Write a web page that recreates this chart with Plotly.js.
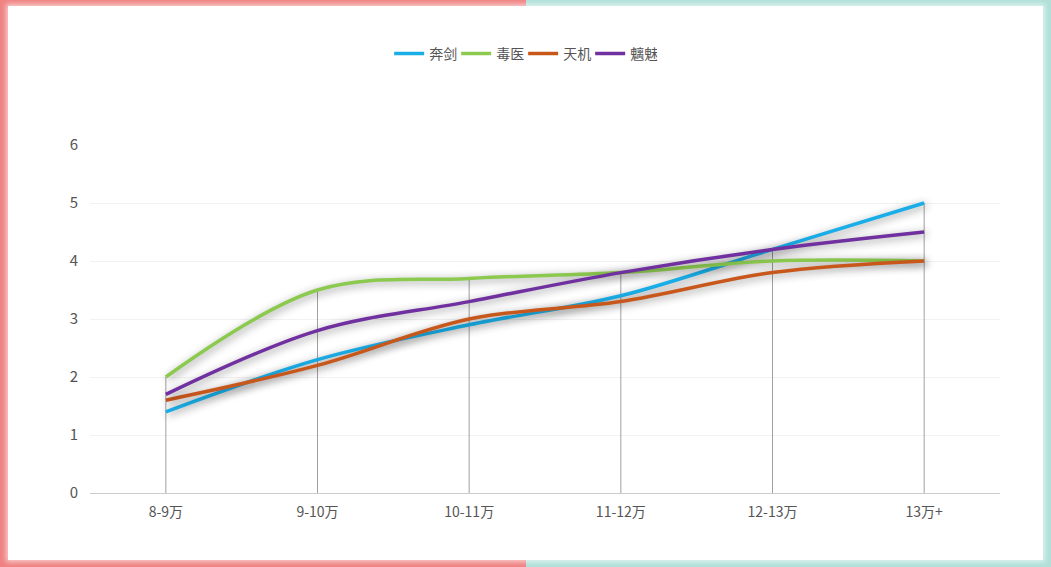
<!DOCTYPE html>
<html>
<head>
<meta charset="utf-8">
<script src="https://cdn.plot.ly/plotly-3.0.1.min.js"></script>
<style>
  html, body { margin: 0; padding: 0; width: 1051px; height: 567px; overflow: hidden; }
  body { background: linear-gradient(to right, #f08282 0%, #f08282 50%, #b0e0d8 50%, #b0e0d8 100%); }
  #card {
    position: absolute; left: 8px; top: 6px; width: 1035px; height: 554px;
    background: #fff; box-shadow: 0 0 5px 2px rgba(255,255,255,0.6);
  }
  #chart { width: 1035px; height: 554px; }
  .scatterlayer .trace .js-line { filter: drop-shadow(2px 2px 4px rgba(0,0,0,0.45)); }
  .scatterlayer .trace:first-child .js-line { filter: none; }
</style>
</head>
<body>
<div id="card"><div id="chart"></div></div>
<script>
  const categories = ["8-9万", "9-10万", "10-11万", "11-12万", "12-13万", "13万+"];
  const benjian = [1.4, 2.3, 2.9, 3.4, 4.2, 5.0];
  const duyi = [2.0, 3.5, 3.7, 3.8, 4.0, 4.0];
  const tianji = [1.6, 2.2, 3.0, 3.3, 3.8, 4.0];
  const chimei = [1.7, 2.8, 3.3, 3.8, 4.2, 4.5];

  const seriesNames = ["奔剑", "毒医", "天机", "魑魅"];
  const seriesColors = ["#1aaee8", "#8cc94f", "#c8571b", "#7030a0"];
  const seriesData = [benjian, duyi, tianji, chimei];

  // vertical drop lines from 0 to the highest value at each category
  let dropX = [], dropY = [];
  categories.forEach((c, i) => {
    const top = Math.max(...seriesData.map((s) => s[i]));
    dropX.push(c, c, null);
    dropY.push(0, top, null);
  });

  let traces = [{
    x: dropX,
    y: dropY,
    type: "scatter",
    mode: "lines",
    line: { color: "#a0a0a0", width: 1 },
    showlegend: false,
    hoverinfo: "skip",
  }];

  seriesData.forEach((vals, k) => {
    traces.push({
      name: seriesNames[k],
      x: categories,
      y: vals,
      type: "scatter",
      mode: "lines",
      line: { color: seriesColors[k], width: 3.5, shape: "spline", smoothing: 1 },
    });
  });

  let layout = {
    width: 1035,
    height: 554,
    margin: { l: 82, r: 43, t: 139, b: 67 },
    paper_bgcolor: "#fff",
    plot_bgcolor: "#fff",
    font: { family: "Noto Sans CJK SC, sans-serif", size: 14, color: "#666" },
    showlegend: true,
    legend: {
      orientation: "h",
      x: 0.476,
      xanchor: "center",
      y: 1.262,
      yanchor: "middle",
      font: { size: 14, color: "#555" },
      itemwidth: 30,
      entrywidth: 22,
      entrywidthmode: "pixels",
      tracegroupgap: 0,
    },
    xaxis: {
      type: "category",
      range: [-0.5, 5.5],
      showgrid: false,
      showline: true,
      linecolor: "#ccc",
      linewidth: 1,
      ticks: "outside",
      ticklen: 6,
      tickcolor: "rgba(0,0,0,0)",
      tickfont: { size: 14, color: "#555" },
      zeroline: false,
      fixedrange: true,
    },
    yaxis: {
      range: [0, 6],
      dtick: 1,
      showgrid: true,
      gridcolor: "#f2f2f2",
      zeroline: false,
      showline: false,
      ticks: "outside",
      ticklen: 8,
      tickcolor: "rgba(0,0,0,0)",
      tickfont: { size: 15, color: "#555" },
      fixedrange: true,
    },
  };

  Plotly.newPlot("chart", traces, layout, { displayModeBar: false, staticPlot: true });
</script>
</body>
</html>
